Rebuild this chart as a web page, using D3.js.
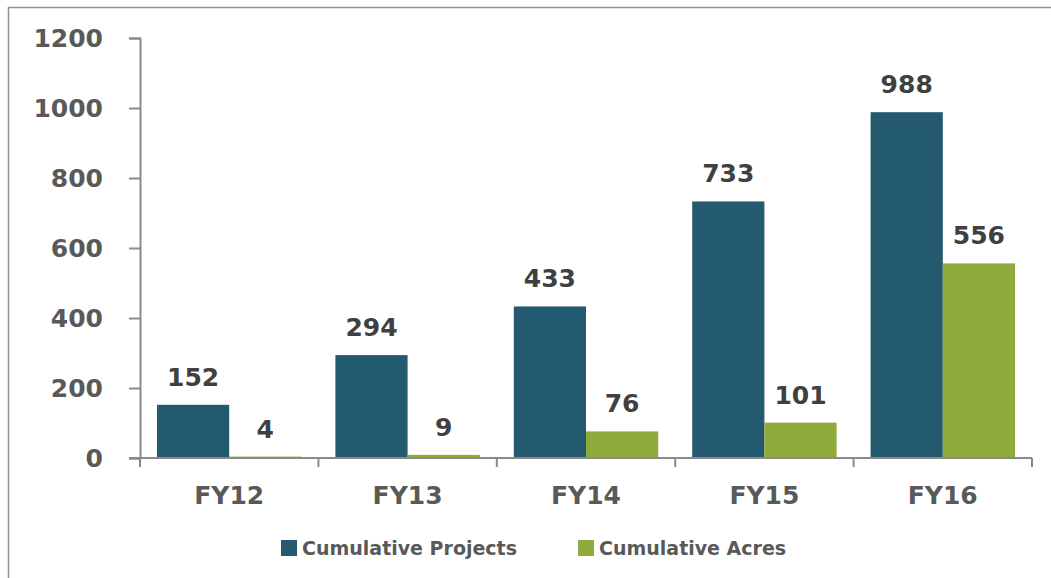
<!DOCTYPE html>
<html>
<head>
<meta charset="utf-8">
<script src="https://cdn.jsdelivr.net/npm/d3@7"></script>
<style>
  body { margin: 0; background: #fff; }
  text { font-family: "DejaVu Sans", Verdana, sans-serif; font-weight: bold; }
</style>
</head>
<body>
<div class="chart"></div>
<script>
const years = ['FY12', 'FY13', 'FY14', 'FY15', 'FY16']
const projects = [152, 294, 433, 733, 988]
const acres = [4, 9, 76, 101, 556]
const seriesNames = ['Cumulative Projects', 'Cumulative Acres']
const yTicks = [0, 200, 400, 600, 800, 1000, 1200]

const colors = ['#235a70', '#8fab3c']
const width = 1051
const height = 578

const svg = d3.select('.chart')
  .append('svg')
  .attr('width', width)
  .attr('height', height)

// outer frame (right/bottom edges fall outside the picture)
svg.append('rect')
  .attr('x', 8.5).attr('y', 7.5)
  .attr('width', 1100).attr('height', 700)
  .attr('fill', 'none')
  .attr('stroke', '#9c908b')
  .attr('stroke-width', 1.5)

const x0 = d3.scaleBand().domain(years).range([140, 1032])
const x1 = d3.scaleBand().domain(seriesNames).range([17, x0.bandwidth() - 17])
const y = d3.scaleLinear().domain([0, 1200]).range([458, 38])

const rows = years.map((yr, i) => ({ year: yr, values: [projects[i], acres[i]] }))

// bars
const groups = svg.selectAll('.grp')
  .data(rows)
  .enter()
  .append('g')
  .attr('transform', d => `translate(${x0(d.year)},0)`)

groups.selectAll('rect')
  .data(d => d.values.map((v, j) => ({ v, name: seriesNames[j], j })))
  .enter()
  .append('rect')
  .attr('x', d => x1(d.name))
  .attr('y', d => y(d.v))
  .attr('width', x1.bandwidth())
  .attr('height', d => y(0) - y(d.v))
  .attr('fill', d => colors[d.j])

groups.selectAll('.lbl')
  .data(d => d.values.map((v, j) => ({ v, name: seriesNames[j], j })))
  .enter()
  .append('text')
  .attr('x', d => x1(d.name) + x1.bandwidth() / 2)
  .attr('y', d => y(d.v) - 19)
  .attr('text-anchor', 'middle')
  .attr('font-size', 25)
  .attr('fill', '#404040')
  .text(d => d.v)

// y axis
const yAxis = svg.append('g')
  .attr('transform', 'translate(140,0)')
  .call(d3.axisLeft(y).tickValues(yTicks).tickFormat(d3.format('d')).tickSize(11).tickPadding(26))
yAxis.selectAll('line, path').attr('stroke', '#8a8a8a').attr('stroke-width', 2)
yAxis.selectAll('text')
  .attr('font-size', 25)
  .attr('fill', '#595959')
  .attr('font-family', '"DejaVu Sans", Verdana, sans-serif')
  .attr('font-weight', 'bold')

// x axis with ticks at category boundaries
const xAxisG = svg.append('g')
xAxisG.append('line')
  .attr('x1', 129).attr('x2', 1032)
  .attr('y1', y(0)).attr('y2', y(0))
  .attr('stroke', '#8a8a8a').attr('stroke-width', 2)
const bounds = years.map(d => x0(d)).concat([x0.range()[1]])
xAxisG.selectAll('.xt')
  .data(bounds)
  .enter()
  .append('line')
  .attr('x1', d => d).attr('x2', d => d)
  .attr('y1', y(0)).attr('y2', y(0) + 9)
  .attr('stroke', '#8a8a8a').attr('stroke-width', 2)
xAxisG.selectAll('.xl')
  .data(years)
  .enter()
  .append('text')
  .attr('x', d => x0(d) + x0.bandwidth() / 2)
  .attr('y', 504)
  .attr('text-anchor', 'middle')
  .attr('font-size', 25)
  .attr('fill', '#595959')
  .text(d => d)

// legend
const legendX = [281, 578]
const legend = svg.selectAll('.leg')
  .data(seriesNames)
  .enter()
  .append('g')
  .attr('transform', (d, i) => `translate(${legendX[i]},540)`)
legend.append('rect')
  .attr('width', 16).attr('height', 16)
  .attr('fill', (d, i) => colors[i])
legend.append('text')
  .attr('x', 21).attr('y', 15)
  .attr('font-size', 19)
  .attr('fill', '#595959')
  .text(d => d)
</script>
</body>
</html>
